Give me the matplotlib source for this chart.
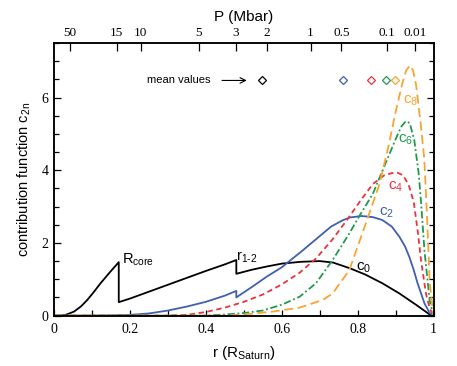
import matplotlib
matplotlib.use("Agg")
import matplotlib.pyplot as plt
from matplotlib.ticker import MultipleLocator

# ---- data ----
r_c0 = [0, 0.015, 0.03, 0.052, 0.07, 0.087, 0.105, 0.122, 0.148, 0.17, 0.17, 0.2, 0.25, 0.3, 0.35, 0.4, 0.45, 0.48,
        0.48, 0.52, 0.56, 0.6, 0.65, 0.7, 0.735, 0.78, 0.82, 0.865, 0.91, 0.955, 0.99, 1.0]
c0 = [0, 0, 0.02, 0.11, 0.25, 0.43, 0.66, 0.89, 1.21, 1.47, 0.37, 0.47, 0.66, 0.85, 1.04, 1.23, 1.41, 1.53,
      1.15, 1.26, 1.35, 1.43, 1.48, 1.50, 1.46, 1.30, 1.13, 0.89, 0.61, 0.29, 0.03, 0]

r_c2 = [0, 0.1, 0.17, 0.2, 0.25, 0.3, 0.35, 0.4, 0.45, 0.48, 0.48, 0.52, 0.56, 0.6, 0.62, 0.65, 0.69, 0.73, 0.76,
        0.78, 0.81, 0.84, 0.865, 0.89, 0.91, 0.925, 0.936, 0.948, 0.958, 0.976, 0.99, 1.0]
c2 = [0, 0, 0.01, 0.02, 0.06, 0.14, 0.25, 0.38, 0.55, 0.68, 0.50, 0.78, 1.07, 1.33, 1.50, 1.75, 2.10, 2.45, 2.62,
      2.70, 2.74, 2.71, 2.63, 2.45, 2.17, 1.90, 1.62, 1.25, 0.89, 0.34, 0.07, 0]

r_c4 = [0, 0.3, 0.35, 0.4, 0.45, 0.5, 0.55, 0.6, 0.647, 0.69, 0.734, 0.773, 0.81, 0.84, 0.87, 0.89, 0.905,
        0.92, 0.935, 0.948, 0.958, 0.967, 0.98, 0.99, 1.0]
c4 = [0, 0, 0.02, 0.10, 0.22, 0.38, 0.58, 0.86, 1.18, 1.57, 2.10, 2.65, 3.20, 3.62, 3.86, 3.92, 3.93,
      3.86, 3.58, 3.12, 2.35, 1.53, 0.61, 0.2, 0]

r_c6 = [0, 0.4, 0.45, 0.5, 0.55, 0.6, 0.647, 0.69, 0.734, 0.778, 0.805, 0.84, 0.86, 0.88, 0.9, 0.915,
        0.927, 0.937, 0.949, 0.961, 0.968, 0.976, 0.99, 1.0]
c6 = [0, 0, 0.03, 0.07, 0.14, 0.30, 0.52, 0.89, 1.53, 2.26, 2.75, 3.35, 3.85, 4.35, 4.85, 5.20,
      5.35, 5.30, 4.85, 3.90, 3.0, 1.80, 0.4, 0]

r_c8 = [0, 0.45, 0.5, 0.576, 0.647, 0.708, 0.734, 0.778, 0.822, 0.857, 0.88, 0.9, 0.918, 0.928, 0.938,
        0.946, 0.954, 0.967, 0.976, 0.983, 0.99, 1.0]
c8 = [0, 0, 0.03, 0.11, 0.22, 0.43, 0.61, 1.25, 2.55, 3.60, 4.60, 5.60, 6.40, 6.75, 6.88,
      6.75, 6.35, 5.20, 4.27, 2.7, 0.9, 0]

mean_r = [0.549, 0.762, 0.836, 0.876, 0.899]
mean_y = 6.47

p_ticks_r = [0.041, 0.165, 0.228, 0.381, 0.478, 0.56, 0.676, 0.757, 0.878, 0.952]
p_labels = ["50", "15", "10", "5", "3", "2", "1", "0.5", "0.1", "0.01"]

# ---- style ----
BLACK = "#000000"
BLUE = "#3f5fb0"
RED = "#e8343c"
GREEN = "#1e9a4e"
ORANGE = "#f7a530"
SANS = "Liberation Sans"
SERIF = "Liberation Serif"

plt.rcParams["mathtext.fontset"] = "custom"
plt.rcParams["mathtext.rm"] = SANS

fig = plt.figure(figsize=(4.57, 3.66), dpi=100)
ax = fig.add_axes([0.1188, 0.1377, 0.8298, 0.7448])

lw = 1.3
ax.plot(r_c0, c0, color=BLACK, lw=lw)
ax.plot(r_c2, c2, color=BLUE, lw=lw)
ax.plot(r_c4, c4, color=RED, lw=lw, dashes=(3, 2))
ax.plot(r_c6, c6, color=GREEN, lw=lw, dashes=(4, 1.5, 1, 1.5))
ax.plot(r_c8, c8, color=ORANGE, lw=lw, dashes=(5, 2.5))

for xr, col in zip(mean_r, [BLACK, BLUE, RED, GREEN, ORANGE]):
    ax.plot([xr], [mean_y], marker="D", ms=4.2, mfc="white", mec=col, mew=0.9, clip_on=False)

ax.text(0.245, mean_y, "mean values", fontfamily=SANS, fontsize=8, ha="left", va="center")
ax.annotate("", xy=(0.515, mean_y), xytext=(0.435, mean_y),
            arrowprops=dict(arrowstyle="->", color=BLACK, lw=0.8))

ax.set_xlim(0, 1)
ax.set_ylim(0, 7.5)

# curve labels
lab_fs = 11
ax.text(0.939, 5.92, r"c$_{\mathregular{8}}$", color=ORANGE, fontfamily=SANS, fontsize=lab_fs, ha="center", va="center")
ax.text(0.926, 4.85, r"c$_{\mathregular{6}}$", color=GREEN, fontfamily=SANS, fontsize=lab_fs, ha="center", va="center")
ax.text(0.899, 3.54, r"c$_{\mathregular{4}}$", color=RED, fontfamily=SANS, fontsize=lab_fs, ha="center", va="center")
ax.text(0.875, 2.84, r"c$_{\mathregular{2}}$", color=BLUE, fontfamily=SANS, fontsize=lab_fs, ha="center", va="center")
ax.text(0.817, 1.33, r"c$_{\mathregular{0}}$", color=BLACK, fontfamily=SANS, fontsize=lab_fs, ha="center", va="center")
ax.text(0.178, 1.55, r"R$_{\mathregular{core}}$", color=BLACK, fontfamily=SANS, fontsize=10.5, ha="left", va="center")
ax.text(0.48, 1.61, r"r$_{\mathregular{1\text{-}2}}$", color=BLACK, fontfamily=SANS, fontsize=10.5, ha="left", va="center")

# axes labels
ax.set_xlabel(r"r (R$_{\mathregular{Saturn}}$)", fontfamily=SANS, fontsize=11, labelpad=6)
ax.set_ylabel(r"contribution function c$_{\mathregular{2n}}$", fontfamily=SANS, fontsize=10.5, labelpad=6)

ax.xaxis.set_major_locator(MultipleLocator(0.2))
ax.xaxis.set_minor_locator(MultipleLocator(0.1))
ax.yaxis.set_major_locator(MultipleLocator(2))
ax.yaxis.set_minor_locator(MultipleLocator(0.5))
ax.tick_params(axis="both", which="both", direction="in", width=0.9)
ax.tick_params(axis="x", which="both", top=False, bottom=True, length=4, pad=5)
ax.tick_params(axis="y", which="major", left=True, right=True, length=5, labelsize=10, pad=4)
ax.tick_params(axis="y", which="minor", left=True, right=True, length=3.5)
ax.set_xticks([0, 0.2, 0.4, 0.6, 0.8, 1.0])
ax.set_xticklabels(["0", "0.2", "0.4", "0.6", "0.8", "1"])
for lab in ax.get_xticklabels() + ax.get_yticklabels():
    lab.set_fontfamily(SERIF)
    lab.set_fontsize(10)

top = ax.twiny()
top.set_xlim(0, 1)
top.set_xticks(p_ticks_r)
top.set_xticklabels(p_labels, fontfamily=SERIF, fontsize=9.5)
top.tick_params(axis="x", direction="in", length=6, width=0.9, pad=3)
top.set_xlabel("P (Mbar)", fontfamily=SANS, fontsize=11, labelpad=4)

for a in (ax, top):
    for s in a.spines.values():
        s.set_linewidth(1.1)

fig.savefig("out.png", dpi=100)
